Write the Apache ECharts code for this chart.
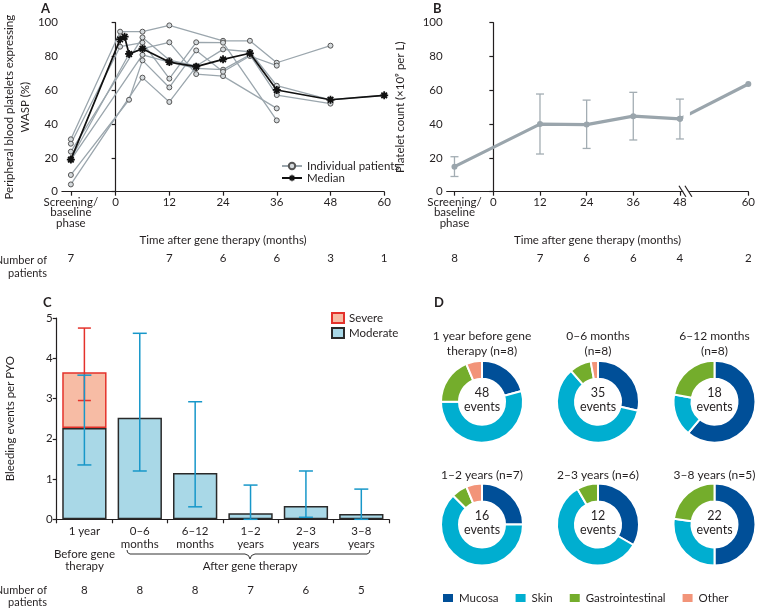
<!DOCTYPE html>
<html><head><meta charset="utf-8">
<script src="https://cdn.jsdelivr.net/npm/echarts@6/dist/echarts.min.js"></script>
<style>html,body{margin:0;padding:0;background:#fff}#c{width:758px;height:609px}</style>
</head><body><div id="c"></div>
<script>
// ---------- DATA ----------
// Panel A: WASP expression (%)
const monthTicks = [-10, 0, 12, 24, 36, 48, 60];
const monthTickLabels = ['Screening/\nbaseline\nphase', '0', '12', '24', '36', '48', '60'];
const patient1 = [[-10,31],[1,94.7],[6,94.7],[12,98.4],[24,89.3],[30,89.3],[36,76.3],[48,86.4]];
const patient2 = [[-10,28.4],[1,85.8],[6,88.2],[12,66.9],[18,88.4],[24,88.2],[36,42.2]];
const patient3 = [[-10,23.7],[6,91.3],[12,77.9],[18,74.4],[24,84.2],[30,82.8],[36,62.7],[48,54.4],[60,57]];
const patient4 = [[-10,19.5],[3,81.5],[6,84.6],[12,88.4],[18,69.6],[24,68.4],[36,49.3]];
const patient5 = [[-10,18.8],[6,81],[12,76.7],[18,73],[24,72.2],[30,81],[36,57.2],[48,52.1]];
const patient6 = [[-10,9.9],[3,54.4],[6,77.7],[12,61.7],[18,83.6],[24,71],[30,80.3],[36,74.6]];
const patient7 = [[-10,4.3],[6,67.5],[12,53.1],[18,74]];
const medianWASP = [[-10,19],[1,90.1],[2,91.7],[3,81.5],[6,84.6],[12,76.7],[18,74],[24,78.3],[30,81.9],[36,60.2],[48,54.4],[60,57]];
const countTimesA = [-10, 12, 24, 36, 48, 60];
const countsA = [7, 7, 6, 6, 3, 1];

// Panel B: platelet count
const plateletTimes = [-10, 12, 24, 36, 48, 60];
const plateletMean = [14.8, 40, 39.7, 44.7, 43.1, 63.7];
const plateletLow  = [9, 22.3, 25.6, 30.6, 31.2, null];
const plateletHigh = [20.7, 57.8, 54.2, 58.8, 54.8, null];
const countTimesB = [-10, 12, 24, 36, 48, 60];
const countsB = [8, 7, 6, 6, 4, 2];

// Panel C: bleeding events per PYO
const bleedCategories = ['1 year', '0–6\nmonths', '6–12\nmonths', '1–2\nyears', '2–3\nyears', '3–8\nyears'];
const moderateRate = [2.27, 2.52, 1.15, 0.15, 0.33, 0.13];
const severeRate   = [1.38, null, null, null, null, null];
const moderateLow  = [1.35, 1.2, 0.31, 0.0, 0.05, 0.0];
const moderateHigh = [3.58, 4.62, 2.92, 0.85, 1.2, 0.75];
const totalLow  = [2.95, null, null, null, null, null];
const totalHigh = [4.75, null, null, null, null, null];
const countsC = [8, 8, 8, 7, 6, 5];

// Panel D: bleeding sites
const donutTitles = ['1 year before gene\ntherapy (n=8)', '0–6 months\n(n=8)', '6–12 months\n(n=8)',
                     '1–2 years (n=7)', '2–3 years (n=6)', '3–8 years (n=5)'];
const siteNames = ['Mucosa', 'Skin', 'Gastrointestinal', 'Other'];
const mucosaEvents = [10, 10, 11, 4, 4, 11];
const skinEvents   = [26, 21, 3, 10, 7, 6];
const giEvents     = [9, 3, 4, 1, 1, 5];
const otherEvents  = [3, 1, 0, 1, 0, 0];

// ---------- STYLE ----------
const F = 'Lato, "Open Sans", sans-serif';
const FS = 11.5;
const INK = '#231f20';
const PAT_LINE = '#9ba6ad', PAT_FILL = '#d5dadd', PAT_EDGE = '#555555';
const B_LINE = '#9aa5ac';
const MOD_FILL = '#a9d8e7', MOD_EDGE = '#2a2a2a', SEV_FILL = '#f7bca5', SEV_EDGE = '#e4322b';
const ERR_BLUE = '#1797c9', ERR_RED = '#e4322b';
const SITE_COLORS = ['#004f98', '#00aed0', '#74ad2c', '#f29479'];

// broken axis in panel B: 48->60 drawn on a stretched scale
const B_POST = 1.4667;
const bPos = m => m <= 48 ? m : 48 + (m - 48) * B_POST;

const chart = echarts.init(document.getElementById('c'), null, {renderer: 'canvas'});

const axisLineStyle = {show: true, lineStyle: {color: INK, width: 1.2}};
const tickStyle = {show: true, length: 4, lineStyle: {color: INK, width: 1.2}};
const lbl = {color: INK, fontSize: FS, fontFamily: F};

function labelFrom(values, labels) {
  return v => { let best = 0; values.forEach((t, i) => { if (Math.abs(t - v) < Math.abs(values[best] - v)) best = i; }); return labels[best]; };
}

function errRender(capHalf, color, width) {
  return function (params, api) {
    const lo = api.value(1), hi = api.value(2);
    if (lo == null || hi == null || isNaN(lo) || isNaN(hi)) return;
    const a = api.coord([api.value(0), lo]), b = api.coord([api.value(0), hi]);
    const st = {stroke: color, lineWidth: width};
    return {type: 'group', children: [
      {type: 'line', shape: {x1: a[0], y1: a[1], x2: b[0], y2: b[1]}, style: st},
      {type: 'line', shape: {x1: a[0] - capHalf, y1: a[1], x2: a[0] + capHalf, y2: a[1]}, style: st},
      {type: 'line', shape: {x1: b[0] - capHalf, y1: b[1], x2: b[0] + capHalf, y2: b[1]}, style: st}
    ]};
  };
}

// asterisk symbol for median
const ast = 'path://M-1.1,-5L1.1,-5L1.1,5L-1.1,5Z M-5,-1.1L5,-1.1L5,1.1L-5,1.1Z ' +
  'M2.76,-4.3L4.3,-2.76L-2.76,4.3L-4.3,2.76Z M-4.3,-2.76L-2.76,-4.3L4.3,2.76L2.76,4.3Z';

const series = [];
[patient1, patient2, patient3, patient4, patient5, patient6, patient7].forEach(p => {
  series.push({type: 'line', name: 'Individual patients', xAxisIndex: 0, yAxisIndex: 0, data: p,
    symbol: 'circle', symbolSize: 5, lineStyle: {color: PAT_LINE, width: 1.3},
    itemStyle: {color: PAT_FILL, borderColor: PAT_EDGE, borderWidth: 1}, z: 3});
});
series.push({type: 'line', name: 'Median', xAxisIndex: 0, yAxisIndex: 0, data: medianWASP,
  symbol: ast, symbolSize: 8, lineStyle: {color: '#111', width: 1.7}, itemStyle: {color: '#111'}, z: 5});

// Panel B
const bMain = plateletTimes.slice(0, 5).map((t, i) => [bPos(t), plateletMean[i]]);
const bTail = plateletTimes.slice(4).map((t, i) => [bPos(t), plateletMean[i + 4]]);
series.push({type: 'custom', xAxisIndex: 2, yAxisIndex: 1, z: 2,
  data: plateletTimes.map((t, i) => [bPos(t), plateletLow[i], plateletHigh[i]]),
  renderItem: errRender(4, '#a3adb3', 1.3)});
series.push({type: 'line', xAxisIndex: 2, yAxisIndex: 1, data: bMain, symbol: 'circle', symbolSize: 6,
  lineStyle: {color: B_LINE, width: 3.2}, itemStyle: {color: B_LINE}, z: 3});
series.push({type: 'line', xAxisIndex: 2, yAxisIndex: 1, data: bTail, symbol: 'circle', symbolSize: 6,
  lineStyle: {color: B_LINE, width: 3.2}, itemStyle: {color: B_LINE}, z: 3});

// Panel C
series.push({type: 'bar', name: 'Moderate', xAxisIndex: 4, yAxisIndex: 2, stack: 'bleed', data: moderateRate,
  barWidth: '80%', itemStyle: {color: MOD_FILL, borderColor: MOD_EDGE, borderWidth: 1.5}, z: 2});
series.push({type: 'bar', name: 'Severe', xAxisIndex: 4, yAxisIndex: 2, stack: 'bleed', data: severeRate,
  barWidth: '80%', itemStyle: {color: SEV_FILL, borderColor: SEV_EDGE, borderWidth: 1.5}, z: 2});
series.push({type: 'custom', xAxisIndex: 4, yAxisIndex: 2, z: 4,
  data: bleedCategories.map((c, i) => [i, totalLow[i], totalHigh[i]]),
  renderItem: errRender(6.5, ERR_RED, 1.5)});
series.push({type: 'custom', xAxisIndex: 4, yAxisIndex: 2, z: 5,
  data: bleedCategories.map((c, i) => [i, moderateLow[i], moderateHigh[i]]),
  renderItem: errRender(7, ERR_BLUE, 1.5)});

// Panel D donuts
const donutCx = [482, 598, 714.5, 482, 598, 714.5];
const donutCy = [401.7, 401.7, 401.7, 524.5, 524.5, 524.5];
const totals = donutTitles.map((t, i) => mucosaEvents[i] + skinEvents[i] + giEvents[i] + otherEvents[i]);
donutTitles.forEach((t, i) => {
  const vals = [mucosaEvents[i], skinEvents[i], giEvents[i], otherEvents[i]];
  series.push({type: 'pie', center: [donutCx[i], donutCy[i]], radius: [23, 41], startAngle: 90, clockwise: true,
    label: {show: false}, labelLine: {show: false}, silent: true, emphasis: {disabled: true},
    itemStyle: {borderColor: '#fff', borderWidth: 2},
    data: vals.map((v, k) => ({name: siteNames[k], value: v, itemStyle: {color: SITE_COLORS[k]}})).filter(d => d.value > 0)});
});

const graphics = [];
const txt = (x, y, text, opts) => graphics.push({type: 'text', x: x, y: y, z: 100, silent: true,
  style: Object.assign({text: text, fill: INK, font: FS + 'px ' + F, align: 'left', verticalAlign: 'top'}, opts || {})});
txt(41, 2, 'A', {font: 'bold 13px ' + F});
txt(433, 2, 'B', {font: 'bold 13px ' + F});
txt(43, 296, 'C', {font: 'bold 13px ' + F});
txt(434, 296, 'D', {font: 'bold 13px ' + F});
txt(47, 253.5, 'Number of\npatients', {align: 'right', lineHeight: 13, font: '11px ' + F});
txt(47, 584.5, 'Number of\npatients', {align: 'right', lineHeight: 12, font: '11px ' + F});
txt(84.5, 548, 'Before gene\ntherapy', {align: 'center', lineHeight: 12.5});
txt(250, 560.5, 'After gene therapy', {align: 'center'});
graphics.push({type: 'polyline', z: 100, silent: true,
  shape: {points: [[127,550],[127.6,552.6],[130,554],[245,554],[248.5,555.5],[250,559],[251.5,555.5],[255,554],[367,554],[369.4,552.6],[370,550]]},
  style: {stroke: '#333', lineWidth: 1, fill: null}});
donutTitles.forEach((t, i) => {
  const row2 = i >= 3;
  txt(donutCx[i], row2 ? 467.5 : 329, t, {align: 'center', lineHeight: 15, font: '12px ' + F});
  txt(donutCx[i], donutCy[i] - 1.5, totals[i] + '\nevents', {align: 'center', verticalAlign: 'middle', lineHeight: 14.5, font: '12.5px ' + F});
});

const option = {
  animation: false,
  textStyle: {fontFamily: F, color: INK},
  grid: [
    {left: 56.7, top: 22.7, width: 327.5, height: 169},
    {left: 446.7, top: 22.7, width: 305.6, height: 169},
    {left: 56.7, top: 318, width: 332.3, height: 201.3}
  ],
  legend: [
    {data: ['Individual patients', 'Median'], orient: 'vertical', left: 281, top: 160, padding: 0, itemWidth: 20, itemHeight: 8,
      itemGap: 0, textStyle: {fontSize: FS, color: INK, fontFamily: F}, selectedMode: false},
    {data: ['Severe', 'Moderate'], orient: 'vertical', left: 331, top: 312, padding: 0, itemWidth: 12, itemHeight: 10, icon: 'rect',
      itemGap: 3, textStyle: {fontSize: FS, color: INK, fontFamily: F}, selectedMode: false},
    {data: siteNames, orient: 'horizontal', left: 441, top: 592, padding: 0, itemWidth: 12, itemHeight: 10, icon: 'rect',
      itemGap: 15, textStyle: {fontSize: FS, color: INK, fontFamily: F}, selectedMode: false}
  ],
  xAxis: [
    {gridIndex: 0, type: 'value', min: -12, max: 60, axisLine: axisLineStyle, splitLine: {show: false},
      axisTick: Object.assign({customValues: monthTicks}, tickStyle),
      axisLabel: Object.assign({customValues: monthTicks, formatter: labelFrom(monthTicks, monthTickLabels), lineHeight: 10.5, margin: 5}, lbl),
      name: 'Time after gene therapy (months)', nameLocation: 'middle', nameGap: 43, nameTextStyle: lbl},
    {gridIndex: 0, type: 'value', min: -12, max: 60, position: 'bottom', offset: 56, axisLine: {show: false},
      axisTick: {show: false}, splitLine: {show: false},
      axisLabel: Object.assign({customValues: countTimesA, formatter: labelFrom(countTimesA, countsA.map(String)), margin: 5}, lbl)},
    {gridIndex: 1, type: 'value', min: -12, max: bPos(60), axisLine: axisLineStyle, splitLine: {show: false},
      axisTick: Object.assign({customValues: monthTicks.map(bPos)}, tickStyle),
      axisLabel: Object.assign({customValues: monthTicks.map(bPos), formatter: labelFrom(monthTicks.map(bPos), monthTickLabels), lineHeight: 10.5, margin: 5}, lbl),
      name: 'Time after gene therapy (months)', nameLocation: 'middle', nameGap: 43, nameTextStyle: lbl},
    {gridIndex: 1, type: 'value', min: -12, max: bPos(60), position: 'bottom', offset: 56, axisLine: {show: false},
      axisTick: {show: false}, splitLine: {show: false},
      axisLabel: Object.assign({customValues: countTimesB.map(bPos), formatter: labelFrom(countTimesB.map(bPos), countsB.map(String)), margin: 5}, lbl)},
    {gridIndex: 2, type: 'category', data: bleedCategories, axisLine: axisLineStyle,
      axisTick: Object.assign({alignWithLabel: false, interval: 0}, tickStyle),
      axisLabel: Object.assign({interval: 0, lineHeight: 13, margin: 5}, lbl)},
    {gridIndex: 2, type: 'category', data: countsC.map(String), position: 'bottom', offset: 60, axisLine: {show: false},
      axisTick: {show: false}, axisLabel: Object.assign({interval: 0, margin: 5}, lbl)}
  ],
  yAxis: [
    {gridIndex: 0, type: 'value', min: 0, max: 100, interval: 20, axisLine: axisLineStyle, axisTick: tickStyle,
      splitLine: {show: false}, axisLabel: Object.assign({margin: 4}, lbl),
      name: 'Peripheral blood platelets expressing\nWASP (%)', nameLocation: 'middle', nameGap: 20,
      nameTextStyle: Object.assign({lineHeight: 16.5}, lbl)},
    {gridIndex: 1, type: 'value', min: 0, max: 100, interval: 20, axisLine: axisLineStyle, axisTick: tickStyle,
      splitLine: {show: false}, axisLabel: Object.assign({margin: 4}, lbl),
      name: 'Platelet count (×10⁹ per L)', nameLocation: 'middle', nameGap: 40, nameTextStyle: lbl},
    {gridIndex: 2, type: 'value', min: 0, max: 5, interval: 1, axisLine: axisLineStyle, axisTick: tickStyle,
      splitLine: {show: false}, axisLabel: Object.assign({margin: 4}, lbl),
      name: 'Bleeding events per PYO', nameLocation: 'middle', nameGap: 40, nameTextStyle: lbl}
  ],
  series: series,
  graphic: graphics
};
chart.setOption(option);

// break marks on panel B axis and gap in the 48->60 segment
const p48 = chart.convertToPixel({gridIndex: 1}, [48, plateletMean[4]]);
const ax = chart.convertToPixel({gridIndex: 1}, [48, 0]);
const bx = ax[0], by = ax[1];
graphics.push({type: 'rect', z: 100, silent: true, shape: {x: p48[0] + 3.5, y: p48[1] - 13, width: 6.5, height: 18}, style: {fill: '#fff'}});
graphics.push({type: 'polygon', z: 100, silent: true, shape: {points: [[bx + 2, by - 2.5], [bx + 8, by - 2.5], [bx + 11, by + 2.5], [bx + 5, by + 2.5]]}, style: {fill: '#fff'}});
graphics.push({type: 'line', z: 101, silent: true, shape: {x1: bx - 1, y1: by - 6, x2: bx + 6, y2: by + 5}, style: {stroke: INK, lineWidth: 1.2}});
graphics.push({type: 'line', z: 101, silent: true, shape: {x1: bx + 5, y1: by - 6, x2: bx + 12, y2: by + 5}, style: {stroke: INK, lineWidth: 1.2}});
chart.setOption({graphic: graphics});
</script></body></html>
